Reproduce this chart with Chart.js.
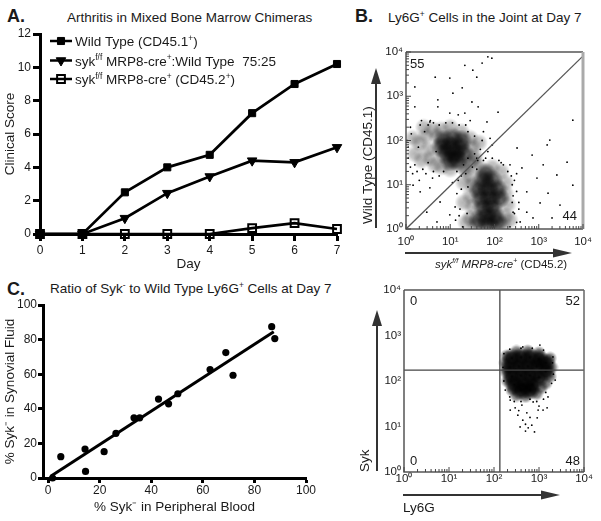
<!DOCTYPE html>
<html>
<head>
<meta charset="utf-8">
<script src="https://cdn.jsdelivr.net/npm/chart.js@4.4.1/dist/chart.umd.min.js"></script>
<style>
  body { margin: 0; background: #fff; }
  #page { position: relative; width: 601px; height: 521px; overflow: hidden; font-family: 'Liberation Sans', Arial, sans-serif; color: #1a1a1a; }
  canvas { position: absolute; }
  .ttl { position: absolute; white-space: nowrap; font-size: 13.5px; line-height: 16px; }
  .big { position: absolute; font-weight: bold; font-size: 18px; line-height: 20px; }
  sup { font-size: 62%; line-height: 0; vertical-align: 0.55em; }
</style>
</head>
<body>
<div id="page">
  <div class="big" style="left:7px; top:6px;">A.</div>
  <div class="ttl" style="left:67px; top:10px;">Arthritis in Mixed Bone Marrow Chimeras</div>
  <div class="big" style="left:355px; top:6px;">B.</div>
  <div class="ttl" style="left:388px; top:10px;">Ly6G<sup>+</sup> Cells in the Joint at Day 7</div>
  <div class="big" style="left:7px; top:279px;">C.</div>
  <div class="ttl" style="left:50px; top:281px;">Ratio of Syk<sup>-</sup> to Wild Type Ly6G<sup>+</sup> Cells at Day 7</div>

  <canvas id="cA" width="350" height="260" style="left:0px; top:20px;"></canvas>
  <canvas id="cC" width="340" height="226" style="left:0px; top:295px;"></canvas>
  <canvas id="cB1" width="301" height="240" style="left:300px; top:40px;"></canvas>
  <canvas id="cB2" width="301" height="241" style="left:300px; top:280px;"></canvas>
</div>
<script>
// ---- panel A: clinical score per day
const days = ['0', '1', '2', '3', '4', '5', '6', '7'];
const wildType = [0, 0, 2.5, 4.0, 4.75, 7.25, 9.0, 10.2];
const mixed7525 = [0, 0, 0.95, 2.45, 3.45, 4.4, 4.3, 5.2];
const sykKO = [0, 0, 0, 0, 0, 0.35, 0.65, 0.3];

// ---- panel C: % Syk- in blood vs synovial fluid
const bloodPct = [1.7, 4.9, 14.3, 14.5, 21.7, 26.3, 33.3, 35.5, 42.8, 46.7, 50.3, 62.8, 68.9, 71.7, 86.7, 87.9];
const fluidPct = [0, 12.3, 16.7, 3.8, 15.2, 25.8, 34.8, 34.8, 45.6, 42.9, 48.7, 62.7, 72.5, 59.4, 87.5, 80.6];
const fitX = [1, 87.5];
const fitY = [1, 84.5];

// ---- panel B: flow plots, values given as log10 exponents [x, y]
const decades = [1, 10, 100, 1000, 10000];
const decadeLabels = ['10⁰', '10¹', '10²', '10³', '10⁴'];
const diagLine = [[0, 0], [3.98, 3.89]];
const wtCore = [[0.85, 2.0], [1.05, 2.05], [1.25, 2.0], [0.8, 1.85], [1.0, 1.85], [1.2, 1.85], [0.9, 1.7], [1.1, 1.7], [1.3, 1.7], [1.0, 1.55], [1.15, 1.55]];
const wtHalo = [[0.3, 1.95], [0.45, 2.1], [0.5, 1.8], [0.55, 1.6], [0.6, 2.25], [0.65, 1.45], [0.8, 2.25], [1.0, 2.3], [1.25, 2.2], [1.45, 2.05], [1.5, 1.85], [1.55, 1.65], [1.45, 1.5], [1.3, 1.4], [0.8, 1.4], [1.0, 1.35], [0.2, 1.7], [0.15, 2.05], [0.35, 1.55], [0.7, 2.1], [1.65, 1.95], [0.4, 2.3]];
const sykCore = [[1.75, 1.1], [1.95, 1.1], [1.65, 0.9], [1.85, 0.9], [2.05, 0.9], [1.7, 0.7], [1.9, 0.7], [2.1, 0.7], [1.75, 0.5], [1.95, 0.5], [1.8, 0.3], [2.0, 0.3], [1.85, 0.12], [1.65, 0.2], [2.05, 0.15], [1.8, 1.25]];
const sykHalo = [[1.45, 1.2], [1.5, 1.0], [1.45, 0.75], [1.5, 0.5], [1.45, 0.25], [1.55, 0.08], [2.25, 1.05], [2.25, 0.8], [2.3, 0.55], [2.25, 0.3], [2.2, 0.1], [2.15, 1.3], [1.95, 1.4], [1.65, 1.4], [1.35, 1.35], [1.3, 1.05], [1.3, 0.6], [1.35, 0.15], [2.35, 0.2], [1.55, 1.55]];
const b1Scatter = [
  [0.66, 3.43], [0.99, 3.41], [1.06, 3.07], [1.27, 3.19], [1.33, 3.7], [1.51, 3.59], [1.6, 3.43], [1.72, 3.75], [1.85, 3.89], [1.94, 3.86],
  [0.2, 3.21], [0.2, 2.76], [0.72, 2.92], [0.72, 2.76], [0.99, 2.62], [1.18, 2.58], [1.33, 2.62], [1.63, 2.76], [1.83, 2.42], [2.08, 2.64],
  [1.49, 2.87], [3.77, 2.46], [3.25, 2.01], [0.54, 2.42], [0.32, 2.35],
  [0.1, 1.4], [0.25, 1.3], [0.45, 1.25], [0.05, 1.85], [0.1, 2.3], [1.75, 2.2], [1.8, 1.6], [1.9, 2.05], [0.55, 2.45], [1.35, 2.35], [1.6, 1.35], [0.3, 1.1], [0.6, 1.15], [0.75, 1.2],
  [2.51, 1.83], [2.62, 1.38], [2.73, 0.84], [2.96, 1.15], [3.03, 0.59], [3.19, 1.9], [3.21, 0.81], [3.41, 1.22], [3.48, 0.54], [3.64, 1.51], [3.77, 0.99], [2.87, 0.25], [3.3, 0.25], [2.42, 0.38], [2.58, 0.16], [2.73, 0.38], [3.1, 1.45], [2.85, 1.67],
  [0.16, 0.99], [0.32, 0.84], [0.54, 0.93], [0.47, 0.38], [0.77, 0.61], [0.99, 0.32], [0.7, 0.16], [1.11, 0.5],
  [2.45, 1.1], [2.4, 0.6], [2.5, 0.85], [1.2, 0.3], [1.15, 0.8], [1.25, 1.2], [2.35, 1.45], [2.1, 1.55], [2.55, 0.45], [1.05, 1.05],
  // speckle around the wild type cloud
  [0.05, 1.6], [0.12, 2.15], [0.2, 1.45], [0.28, 1.85], [0.38, 1.35], [0.42, 2.2], [0.5, 1.5], [0.5, 2.35], [0.62, 1.3], [0.62, 2.4], [0.68, 1.75], [0.75, 2.35], [0.85, 1.3], [0.9, 2.4], [1.05, 2.4], [1.15, 1.3], [1.2, 2.35], [1.35, 1.25], [1.4, 2.2], [1.5, 1.4], [1.55, 2.1], [1.62, 1.55], [1.68, 1.8], [1.72, 2.0], [1.85, 1.75], [0.15, 1.25], [0.35, 2.45], [1.45, 2.45], [1.95, 1.9], [0.02, 2.0],
  // speckle around the syk cloud
  [1.3, 1.45], [1.25, 0.9], [1.22, 0.45], [1.28, 0.05], [1.4, 1.6], [1.55, 1.7], [1.75, 1.55], [1.95, 1.6], [2.15, 1.5], [2.3, 1.3], [2.4, 1.0], [2.42, 0.75], [2.45, 0.35], [2.35, 0.05], [2.5, 0.15], [2.38, 1.2], [1.4, 0.95], [1.38, 0.35], [2.2, 1.45], [1.6, 1.6], [2.55, 0.6], [2.5, 1.25], [1.18, 1.1], [1.12, 0.2]
];
const gateX = 135, gateY = 174;
const b2Core = [[2.4, 2.5], [2.6, 2.52], [2.8, 2.52], [3.0, 2.48], [3.15, 2.4], [2.35, 2.3], [2.55, 2.32], [2.75, 2.32], [2.95, 2.32], [3.15, 2.22], [2.4, 2.1], [2.6, 2.12], [2.8, 2.12], [3.0, 2.08], [2.45, 1.92], [2.65, 1.92], [2.85, 1.92], [2.6, 1.8], [2.8, 1.8]];
const b2Halo = [[2.28, 2.55], [2.25, 2.4], [2.27, 2.2], [2.3, 2.0], [3.25, 2.5], [3.28, 2.3], [3.25, 2.1], [3.15, 1.95], [2.4, 1.8], [2.5, 1.68], [2.7, 1.66], [2.95, 1.72], [3.05, 1.85], [2.5, 2.65], [2.75, 2.66], [3.0, 2.62]];
const b2Scatter = [
  [2.36, 1.58], [2.47, 1.41], [2.62, 1.47], [2.73, 1.3], [2.87, 1.54], [2.98, 1.36], [2.64, 1.14], [2.84, 1.03], [2.58, 0.99], [2.76, 0.97], [3.09, 1.36], [3.2, 1.65], [3.18, 1.41], [3.36, 2.02], [3.31, 2.53], [2.64, 2.75], [3.02, 2.79], [2.36, 1.36], [2.96, 1.19], [2.53, 1.25], [2.9, 0.88], [2.7, 0.9],
  [2.22, 2.6], [2.2, 2.3], [2.22, 2.0], [2.25, 1.8], [2.35, 2.7], [2.6, 2.72], [2.85, 2.72], [3.1, 2.68], [3.3, 2.4], [3.32, 2.15], [3.28, 1.95], [3.15, 1.75], [3.1, 1.6], [2.35, 1.65], [2.45, 1.55], [2.6, 1.55], [2.8, 1.6], [2.95, 1.55], [2.55, 1.35], [2.8, 1.2], [3.0, 1.45], [2.7, 1.05]
];

const F = "'Liberation Sans', Arial, sans-serif";
const INK = '#1a1a1a';
const toPts = arr => arr.map(([a, b]) => ({ x: 10 ** a, y: 10 ** b }));

function rich(ctx, parts, x, y, size) {
  ctx.textAlign = 'left';
  ctx.textBaseline = 'alphabetic';
  ctx.fillStyle = INK;
  for (const p of parts) {
    const s = p.sup ? size * 0.62 : size;
    ctx.font = (p.it ? 'italic ' : '') + s + 'px ' + F;
    ctx.fillText(p.t, x, p.sup ? y - size * 0.4 : y);
    x += ctx.measureText(p.t).width;
  }
}

function arrow(ctx, x1, y1, x2, y2, len, half) {
  const a = Math.atan2(y2 - y1, x2 - x1);
  ctx.save();
  ctx.strokeStyle = '#333';
  ctx.fillStyle = '#333';
  ctx.lineWidth = 2;
  ctx.beginPath();
  ctx.moveTo(x1, y1);
  ctx.lineTo(x2 - Math.cos(a) * len * 0.8, y2 - Math.sin(a) * len * 0.8);
  ctx.stroke();
  ctx.translate(x2, y2);
  ctx.rotate(a);
  ctx.beginPath();
  ctx.moveTo(0, 0);
  ctx.lineTo(-len, -half);
  ctx.lineTo(-len, half);
  ctx.closePath();
  ctx.fill();
  ctx.restore();
}

// ---------- A
const legendRows = [
  [{ t: 'Wild Type (CD45.1' }, { t: '+', sup: true }, { t: ')' }],
  [{ t: 'syk' }, { t: 'f/f', sup: true }, { t: ' MRP8-cre' }, { t: '+', sup: true }, { t: ':Wild Type  75:25' }],
  [{ t: 'syk' }, { t: 'f/f', sup: true }, { t: ' MRP8-cre' }, { t: '+', sup: true }, { t: ' (CD45.2' }, { t: '+', sup: true }, { t: ')' }]
];

const legendA = {
  id: 'legendA',
  afterDraw(chart) {
    const ctx = chart.ctx, ca = chart.chartArea;
    const rowY = [7, 26.5, 45];
    chart.data.datasets.forEach((ds, i) => {
      const y = ca.top + rowY[i];
      ctx.save();
      ctx.strokeStyle = '#000';
      ctx.lineWidth = 2.5;
      ctx.beginPath();
      ctx.moveTo(ca.left + 10, y);
      ctx.lineTo(ca.left + 32, y);
      ctx.stroke();
      ctx.fillStyle = ds.pointBackgroundColor;
      ctx.strokeStyle = '#000';
      ctx.lineWidth = ds.pointBorderWidth;
      Chart.helpers.drawPoint(ctx, { pointStyle: ds.pointStyle, rotation: ds.pointRotation || 0, radius: ds.pointRadius, borderWidth: ds.pointBorderWidth }, ca.left + 21, y);
      ctx.restore();
      rich(ctx, legendRows[i], ca.left + 35, y + 5, 13.5);
    });
  }
};

const axisBlack = (len) => ({
  grid: { drawOnChartArea: false, drawTicks: true, tickLength: len, tickWidth: 3, tickColor: '#000' },
  border: { display: true, width: 3, color: '#000' }
});

new Chart(document.getElementById('cA'), {
  type: 'line',
  data: {
    labels: days,
    datasets: [
      { data: wildType, borderColor: '#000', borderWidth: 2.7, tension: 0, pointStyle: 'rect', pointRadius: 5, pointBackgroundColor: '#000', pointBorderColor: '#000', pointBorderWidth: 1, clip: false },
      { data: mixed7525, borderColor: '#000', borderWidth: 2.7, tension: 0, pointStyle: 'triangle', pointRotation: 180, pointRadius: 5.5, pointBackgroundColor: '#000', pointBorderColor: '#000', pointBorderWidth: 1, clip: false },
      { data: sykKO, borderColor: '#000', borderWidth: 2.7, tension: 0, pointStyle: 'rect', pointRadius: 5.5, pointBackgroundColor: 'rgba(0,0,0,0)', pointBorderColor: '#000', pointBorderWidth: 2, clip: false }
    ]
  },
  options: {
    responsive: false, animation: false,
    layout: { padding: { top: 14, right: 13, left: 0, bottom: 0 } },
    plugins: { legend: { display: false }, tooltip: { enabled: false } },
    scales: {
      x: {
        type: 'category', offset: false, ...axisBlack(7),
        ticks: { font: { size: 12, family: F }, color: INK, padding: 2, maxRotation: 0, autoSkip: false },
        title: { display: true, text: 'Day', font: { size: 13.5, family: F }, color: INK, padding: { top: 0, bottom: 8 } },
        afterFit(s) { s.height = 46; }
      },
      y: {
        min: 0, max: 12, ...axisBlack(7),
        ticks: { stepSize: 2, font: { size: 12, family: F }, color: INK, padding: 2 },
        title: { display: true, text: 'Clinical Score', font: { size: 13.5, family: F }, color: INK, padding: { top: 2, bottom: 0 } },
        afterFit(s) { s.width = 40; }
      }
    }
  },
  plugins: [legendA]
});

// ---------- C
new Chart(document.getElementById('cC'), {
  type: 'scatter',
  data: {
    datasets: [
      { data: fitX.map((x, i) => ({ x, y: fitY[i] })), showLine: true, borderColor: '#000', borderWidth: 3, pointRadius: 0, clip: false },
      { data: bloodPct.map((x, i) => ({ x, y: fluidPct[i] })), pointRadius: 3.6, pointBackgroundColor: '#000', pointBorderWidth: 0, clip: false }
    ]
  },
  options: {
    responsive: false, animation: false,
    layout: { padding: { top: 10, right: 34, left: 0, bottom: 0 } },
    plugins: { legend: { display: false }, tooltip: { enabled: false } },
    scales: {
      x: {
        type: 'linear', min: -2, max: 100, ...axisBlack(5),
        afterBuildTicks(s) { s.ticks = [0, 20, 40, 60, 80, 100].map(v => ({ value: v })); },
        ticks: { font: { size: 12, family: F }, color: INK, padding: 0, maxRotation: 0 },
        title: { display: true, text: '% Syk⁻ in Peripheral Blood', font: { size: 13.5, family: F }, color: INK, padding: { top: 0, bottom: 6 } },
        afterFit(s) { s.height = 43; }
      },
      y: {
        min: 0, max: 100, ...axisBlack(5),
        ticks: { stepSize: 20, font: { size: 12, family: F }, color: INK, padding: 1 },
        title: { display: true, text: '% Syk⁻ in Synovial Fluid', font: { size: 13.5, family: F }, color: INK, padding: { top: 2, bottom: 0 } },
        afterFit(s) { s.width = 43; }
      }
    }
  }
});

// ---------- B (flow plots)
function flowPlugin(cfg) {
  return {
    id: 'flow',
    afterDraw(chart) {
      const ctx = chart.ctx, ca = chart.chartArea;
      const xs = chart.scales.x, ys = chart.scales.y;
      ctx.save();
      // box
      ctx.lineWidth = 1.5;
      ctx.strokeStyle = '#555';
      ctx.beginPath();
      ctx.moveTo(ca.left, ca.top); ctx.lineTo(ca.left, ca.bottom); ctx.lineTo(ca.right, ca.bottom);
      ctx.moveTo(ca.left, ca.top); ctx.lineTo(ca.right, ca.top);
      ctx.stroke();
      ctx.strokeStyle = cfg.rightColor;
      ctx.lineWidth = cfg.rightWidth;
      ctx.beginPath(); ctx.moveTo(ca.right, ca.top); ctx.lineTo(ca.right, ca.bottom); ctx.stroke();
      // inner log ticks
      ctx.strokeStyle = '#444';
      ctx.lineWidth = 1;
      ctx.beginPath();
      for (const d of decades) {
        for (let m = 1; m <= 9; m++) {
          const v = d * m;
          if (v > 10000) break;
          const tl = m === 1 ? 5 : 3;
          const px = xs.getPixelForValue(v);
          ctx.moveTo(px, ca.bottom); ctx.lineTo(px, ca.bottom - tl);
          if (cfg.yMinor) {
            const py = ys.getPixelForValue(v);
            ctx.moveTo(ca.left, py); ctx.lineTo(ca.left + tl, py);
          }
        }
      }
      ctx.stroke();
      ctx.restore();
      // arrows
      arrow(ctx, ca.left - cfg.yArrowDx, ca.bottom - 1, ca.left - cfg.yArrowDx, ca.top + cfg.yArrowTop, 16, 5);
      arrow(ctx, ca.left - 1, ca.bottom + cfg.xArrowDy, ca.right - cfg.xArrowEnd, ca.bottom + cfg.xArrowDy, 19, 4.5);
      // axis titles
      rich(ctx, cfg.xTitle, ca.left + cfg.xTitleDx, ca.bottom + cfg.xTitleDy, cfg.xTitleSize);
      ctx.save();
      ctx.translate(ca.left - cfg.yTitleDx, ca.bottom - cfg.yTitleDy);
      ctx.rotate(-Math.PI / 2);
      rich(ctx, cfg.yTitle, 0, 0, 13.5);
      ctx.restore();
      // quadrant numbers
      ctx.font = '13px ' + F;
      ctx.fillStyle = INK;
      ctx.textBaseline = 'middle';
      for (const q of cfg.quads) {
        ctx.textAlign = q.right ? 'right' : 'left';
        const x = q.right ? ca.right - q.dx : ca.left + q.dx;
        const y = q.bottom ? ca.bottom - q.dy : ca.top + q.dy;
        ctx.fillText(q.t, x, y);
      }
    }
  };
}

function logAxis(size, pad, w, h) {
  return {
    type: 'logarithmic', min: 1, max: 10000,
    grid: { display: false, drawTicks: false },
    border: { display: false },
    afterBuildTicks(s) { s.ticks = decades.map(v => ({ value: v })); },
    ticks: { autoSkip: false, maxRotation: 0, font: { size: size, family: F }, color: INK, padding: pad, callback: (v, i) => decadeLabels[i] },
    afterFit(s) { if (w) s.width = w; if (h) s.height = h; }
  };
}

const dot = (arr, r, c) => ({ data: toPts(arr), pointRadius: r, pointBackgroundColor: c, pointBorderWidth: 0 });

// soft round blob image (dark centre fading out) used as point style to build density
function blobImage(r, alpha) {
  const c = document.createElement('canvas');
  c.width = c.height = r * 2;
  const g2 = c.getContext('2d');
  const g = g2.createRadialGradient(r, r, 0, r, r, r);
  g.addColorStop(0, 'rgba(0,0,0,' + alpha + ')');
  g.addColorStop(0.55, 'rgba(0,0,0,' + (alpha * 0.75) + ')');
  g.addColorStop(1, 'rgba(0,0,0,0)');
  g2.fillStyle = g;
  g2.fillRect(0, 0, r * 2, r * 2);
  return c;
}
const blob = (arr, r, alpha) => ({ data: toPts(arr), pointStyle: blobImage(r, alpha), pointRadius: r, pointBorderWidth: 0 });

new Chart(document.getElementById('cB1'), {
  type: 'scatter',
  data: {
    datasets: [
      { data: toPts(diagLine), showLine: true, borderColor: '#555', borderWidth: 1.3, pointRadius: 0 },
      dot(b1Scatter, 0.9, '#000'),
      blob(wtCore, 11, 0.7),
      blob(sykCore, 11, 0.7),
      blob(wtHalo, 9, 0.3),
      blob(sykHalo, 9, 0.3)
    ]
  },
  options: {
    responsive: false, animation: false,
    layout: { padding: { top: 12, right: 18, left: 0, bottom: 0 } },
    plugins: { legend: { display: false }, tooltip: { enabled: false } },
    scales: { x: logAxis(11.5, 6, 0, 51), y: logAxis(11.5, 3, 106, 0) }
  },
  plugins: [flowPlugin({
    rightColor: '#aaa', rightWidth: 3, yMinor: true,
    yArrowDx: 30, yArrowTop: 16, xArrowDy: 24, xArrowEnd: 11,
    xTitle: [{ t: 'syk', it: true }, { t: 'f/f', it: true, sup: true }, { t: ' MRP8-cre', it: true }, { t: '+', sup: true }, { t: ' (CD45.2)' }],
    xTitleDx: 29, xTitleDy: 39, xTitleSize: 11.5,
    yTitle: [{ t: 'Wild Type (CD45.1)' }], yTitleDx: 34, yTitleDy: 5,
    quads: [{ t: '55', dx: 4, dy: 12 }, { t: '44', right: true, bottom: true, dx: 6, dy: 13 }]
  })]
});

new Chart(document.getElementById('cB2'), {
  type: 'scatter',
  data: {
    datasets: [
      { data: [{ x: gateX, y: 1 }, { x: gateX, y: 10000 }], showLine: true, borderColor: '#444', borderWidth: 1.3, pointRadius: 0 },
      { data: [{ x: 1, y: gateY }, { x: 10000, y: gateY }], showLine: true, borderColor: '#444', borderWidth: 1.3, pointRadius: 0 },
      dot(b2Scatter, 0.9, '#000'),
      blob(b2Core, 10, 1),
      blob(b2Halo, 7, 0.6)
    ]
  },
  options: {
    responsive: false, animation: false,
    layout: { padding: { top: 10, right: 17, left: 0, bottom: 0 } },
    plugins: { legend: { display: false }, tooltip: { enabled: false } },
    scales: { x: logAxis(11.5, 0, 0, 49), y: logAxis(11.5, 3, 104, 0) }
  },
  plugins: [flowPlugin({
    rightColor: '#666', rightWidth: 1.5, yMinor: false,
    yArrowDx: 27, yArrowTop: 20, xArrowDy: 23, xArrowEnd: 24,
    xTitle: [{ t: 'Ly6G' }], xTitleDx: -1, xTitleDy: 39.5, xTitleSize: 13.5,
    yTitle: [{ t: 'Syk' }], yTitleDx: 35, yTitleDy: 0,
    quads: [{ t: '0', dx: 6, dy: 11 }, { t: '52', right: true, dx: 4, dy: 11 }, { t: '0', bottom: true, dx: 6, dy: 11 }, { t: '48', right: true, bottom: true, dx: 4, dy: 11 }]
  })]
});
</script>
</body>
</html>
